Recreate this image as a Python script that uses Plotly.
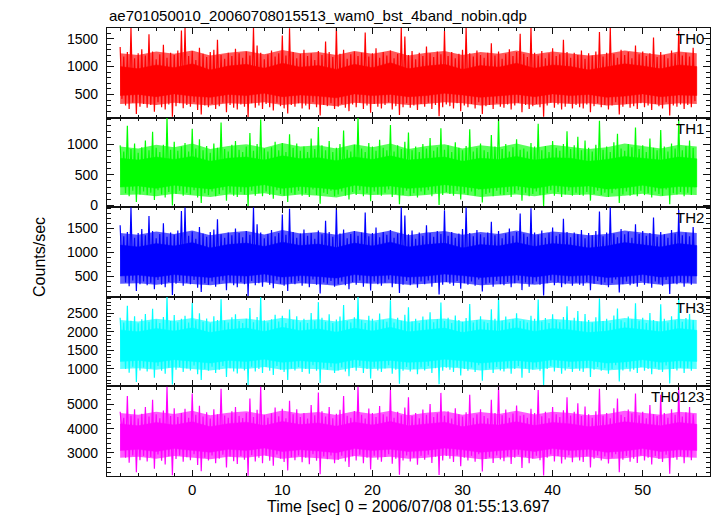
import numpy as np
import plotly.graph_objects as go
from plotly.subplots import make_subplots

# ---------------- data ----------------
# spikes: max / min of each 0.4 s bin ; core: dense band, halo: sparser band (every 2 s)
t_start = -8.0
bin_width = 0.4
core_step = 2.0

title_text = "ae701050010_20060708015513_wam0_bst_4band_nobin.qdp"
x_title = "Time [sec] 0 = 2006/07/08 01:55:13.697"
y_title = "Counts/sec"
band_names = ["TH0", "TH1", "TH2", "TH3", "TH0123"]
band_rgb = [(255, 0, 0), (0, 255, 0), (0, 0, 255), (0, 255, 255), (255, 0, 255)]

th0_high = [1350, 1180, 1260, 1700, 1150, 1240, 1310, 1200, 1580, 1270, 1130, 1220, 1390, 1160, 1250, 1210,
            1290, 1650, 1700, 1190, 1280, 1120, 1340, 1230, 1170, 1260, 1300, 1480, 1210, 1140, 1250, 1190,
            1320, 1240, 1160, 1270, 1200, 1700, 1380, 1250, 1130, 1220, 1290, 1180, 1240, 1560, 1200, 1690,
            1260, 1150, 1230, 1300, 1190, 1240, 1120, 1280, 1210, 1450, 1260, 1170, 1700, 1230, 1300, 1140,
            1220, 1270, 1190, 1250, 1610, 1180, 1240, 1330, 1160, 1260, 1200, 1290, 1150, 1230, 1700, 1540,
            1210, 1280, 1130, 1250, 1190, 1360, 1240, 1170, 1270, 1220, 1640, 1190, 1260, 1150, 1230, 1300,
            1700, 1240, 1180, 1290, 1210, 1160, 1250, 1420, 1200, 1270, 1140, 1230, 1310, 1190, 1260, 1590,
            1230, 1170, 1700, 1250, 1200, 1280, 1150, 1240, 1330, 1190, 1220, 1480, 1260, 1160, 1250, 1210,
            1290, 1140, 1240, 1200, 1270, 1620, 1180, 1250, 1700, 1230, 1160, 1300, 1210, 1260, 1150, 1380,
            1220, 1270, 1190, 1240, 1520, 1170, 1260, 1210, 1150, 1290, 1230, 1680, 1200, 1250, 1180, 1340]
th0_low = [420, 300, 240, 350, 150, 280, 330, 260, 310, 190, 360, 270, 230, 320, 100, 290,
           340, 250, 310, 280, 360, 220, 140, 300, 270, 330, 240, 290, 350, 180, 310, 260,
           230, 320, 280, 90, 340, 260, 300, 240, 330, 270, 210, 350, 290, 250, 160, 310,
           280, 340, 250, 300, 230, 360, 270, 120, 310, 290, 340, 240, 280, 330, 260, 200,
           320, 270, 350, 240, 300, 170, 330, 280, 250, 310, 360, 230, 290, 130, 270, 340,
           260, 300, 220, 330, 280, 350, 240, 310, 110, 270, 320, 290, 250, 340, 200, 300,
           270, 330, 250, 360, 150, 290, 310, 240, 340, 280, 260, 320, 230, 300, 350, 180,
           310, 240, 290, 330, 270, 100, 300, 350, 260, 320, 230, 280, 340, 250, 310, 270,
           250, 320, 180, 290, 340, 270, 310, 230, 300, 360, 140, 280, 330, 260, 290, 240,
           340, 270, 300, 220, 330, 290, 250, 360, 120, 300, 280, 320, 240, 310, 270, 380]
th0_core_top = [1000, 960, 1030, 980, 1050, 940, 1010, 1040, 970, 1060, 990, 1020, 950, 1040, 980, 1070,
                960, 1010, 1040, 950, 1020, 990, 1060, 970, 1030, 1000, 940, 990, 1050, 1010, 960, 1030, 1000]
th0_core_bottom = [480, 500, 460, 510, 470, 450, 500, 480, 520, 460, 490, 470, 440, 510, 480, 500,
                   460, 480, 520, 490, 450, 470, 500, 460, 510, 480, 500, 450, 470, 510, 460, 490, 480]
th0_halo_top = [1240, 1210, 1270, 1230, 1290, 1200, 1250, 1280, 1220, 1300, 1240, 1260, 1210, 1280, 1230, 1290,
                1200, 1250, 1280, 1210, 1260, 1230, 1290, 1220, 1270, 1240, 1200, 1230, 1290, 1250, 1210, 1270, 1240]
th0_halo_bottom = [330, 340, 310, 350, 320, 300, 340, 330, 360, 310, 340, 320, 290, 350, 330, 340,
                   310, 330, 360, 340, 300, 320, 340, 310, 350, 330, 340, 300, 320, 350, 310, 340, 330]

th1_high = [980, 880, 1300, 920, 1010, 860, 950, 1060, 900, 1200, 940, 870, 990, 1430, 910, 1040,
            890, 960, 1020, 880, 1250, 930, 1080, 900, 970, 860, 1010, 940, 1350, 920, 880, 990,
            1050, 910, 870, 960, 1180, 890, 1000, 1400, 930, 880, 950, 1040, 900, 1020, 870, 1160,
            940, 1010, 890, 960, 870, 1090, 920, 1280, 980, 900, 1050, 870, 940, 1000, 1220, 910,
            880, 990, 1430, 930, 870, 1020, 960, 890, 1070, 940, 900, 1310, 880, 980, 920, 1040,
            1190, 900, 960, 870, 1000, 930, 1100, 890, 950, 1260, 910, 980, 870, 1030, 940, 900,
            970, 1240, 880, 940, 1010, 900, 870, 1150, 960, 1420, 920, 1000, 880, 950, 1080, 910,
            930, 880, 1020, 960, 1330, 900, 970, 870, 1050, 940, 890, 1000, 1210, 920, 980, 1120,
            900, 1060, 940, 880, 990, 1380, 910, 960, 870, 1030, 1170, 930, 890, 1000, 950, 1270,
            920, 980, 870, 1090, 940, 900, 1230, 960, 880, 1010, 930, 1400, 900, 970, 1060, 940]
th1_low = [450, 200, 150, 240, 60, 180, 230, 170, 210, 90, 250, 180, 130, 220, 0, 190,
           240, 160, 210, 180, 250, 130, 40, 200, 170, 230, 150, 190, 250, 80, 210, 160,
           140, 220, 180, -20, 240, 160, 200, 150, 230, 170, 110, 250, 190, 160, 60, 210,
           180, 240, 160, 200, 140, 260, 170, 30, 210, 190, 240, 150, 180, 230, 160, 100,
           220, 170, 250, 150, 200, 70, 230, 180, 160, 210, 260, 140, 190, 20, 170, 240,
           160, 200, 130, 230, 180, 250, 150, 210, 10, 170, 220, 190, 160, 240, 100, 200,
           170, 230, 160, 260, 50, 190, 210, 150, 240, 180, 170, 220, 140, 200, 250, 80,
           210, 150, 190, 230, 170, -10, 200, 250, 160, 220, 140, 180, 240, 160, 210, 170,
           160, 220, 80, 190, 240, 170, 210, 140, 200, 260, 40, 180, 230, 160, 190, 150,
           240, 170, 200, 130, 230, 190, 160, 260, 20, 200, 180, 220, 150, 210, 170, 300]
th1_core_top = [770, 740, 790, 750, 800, 720, 770, 790, 740, 810, 760, 780, 730, 790, 750, 810,
                740, 770, 790, 720, 770, 750, 800, 740, 780, 770, 720, 750, 800, 770, 740, 790, 760]
th1_core_bottom = [300, 320, 280, 330, 300, 270, 320, 300, 340, 280, 310, 290, 260, 330, 300, 320,
                   280, 300, 340, 310, 270, 290, 320, 280, 330, 300, 320, 270, 290, 330, 280, 310, 300]
th1_halo_top = [960, 930, 990, 950, 1010, 920, 970, 1000, 940, 1020, 960, 980, 930, 1000, 950, 1010,
                920, 970, 1000, 930, 980, 950, 1010, 940, 990, 960, 920, 950, 1010, 970, 930, 990, 960]
th1_halo_bottom = [170, 180, 150, 190, 160, 140, 180, 170, 200, 150, 180, 160, 130, 190, 170, 180,
                   150, 170, 200, 180, 140, 160, 180, 150, 190, 170, 180, 140, 160, 190, 150, 180, 170]

th2_high = [1560, 1330, 1420, 1930, 1300, 1400, 1480, 1350, 1750, 1440, 1290, 1380, 1600, 1320, 1410, 1360,
            1450, 1850, 1930, 1340, 1430, 1280, 1520, 1390, 1320, 1420, 1470, 1680, 1370, 1300, 1410, 1350,
            1490, 1400, 1310, 1440, 1360, 1930, 1580, 1410, 1290, 1380, 1460, 1330, 1400, 1780, 1360, 1900,
            1420, 1300, 1390, 1470, 1340, 1400, 1280, 1450, 1370, 1650, 1420, 1320, 1930, 1390, 1470, 1290,
            1380, 1440, 1340, 1410, 1820, 1330, 1400, 1510, 1310, 1420, 1360, 1460, 1300, 1390, 1930, 1760,
            1370, 1450, 1280, 1410, 1340, 1560, 1400, 1320, 1440, 1380, 1870, 1340, 1420, 1300, 1390, 1480,
            1930, 1400, 1330, 1460, 1370, 1310, 1410, 1630, 1350, 1440, 1290, 1390, 1490, 1340, 1420, 1800,
            1390, 1320, 1910, 1410, 1360, 1450, 1300, 1400, 1510, 1340, 1380, 1690, 1420, 1310, 1410, 1370,
            1460, 1290, 1400, 1350, 1440, 1840, 1330, 1410, 1930, 1390, 1310, 1480, 1370, 1420, 1300, 1580,
            1380, 1440, 1340, 1400, 1720, 1320, 1420, 1370, 1300, 1460, 1390, 1880, 1350, 1410, 1330, 1520]
th2_low = [620, 380, 300, 420, 200, 340, 400, 320, 370, 240, 430, 330, 280, 390, 120, 350,
           410, 310, 370, 340, 430, 270, 180, 360, 330, 400, 290, 350, 420, 220, 380, 320,
           280, 390, 340, 100, 410, 320, 360, 290, 400, 330, 260, 420, 350, 310, 200, 370,
           340, 410, 310, 360, 280, 440, 330, 150, 380, 350, 410, 290, 340, 400, 320, 240,
           390, 330, 420, 290, 360, 210, 400, 340, 310, 370, 440, 280, 350, 160, 330, 410,
           320, 360, 270, 400, 340, 420, 290, 380, 130, 330, 390, 350, 310, 410, 250, 360,
           330, 400, 310, 440, 190, 350, 370, 290, 410, 340, 320, 390, 280, 360, 420, 220,
           380, 290, 350, 400, 330, 110, 360, 420, 320, 390, 280, 340, 410, 310, 380, 330,
           310, 390, 220, 350, 410, 330, 380, 280, 360, 440, 170, 340, 400, 320, 350, 290,
           410, 330, 360, 270, 400, 350, 310, 430, 140, 360, 340, 390, 290, 380, 330, 580]
th2_core_top = [1150, 1110, 1180, 1130, 1200, 1090, 1160, 1190, 1120, 1210, 1140, 1170, 1100, 1190, 1130, 1210,
                1110, 1160, 1190, 1090, 1160, 1130, 1200, 1120, 1180, 1150, 1090, 1130, 1200, 1160, 1110, 1180, 1140]
th2_core_bottom = [510, 530, 490, 540, 510, 480, 530, 510, 550, 490, 520, 500, 470, 540, 510, 530,
                   490, 510, 550, 520, 480, 500, 530, 490, 540, 510, 530, 480, 500, 540, 490, 520, 510]
th2_halo_top = [1400, 1360, 1430, 1380, 1450, 1350, 1410, 1440, 1370, 1460, 1390, 1420, 1360, 1440, 1380, 1450,
                1350, 1410, 1440, 1360, 1420, 1380, 1450, 1370, 1430, 1400, 1350, 1380, 1450, 1410, 1360, 1430, 1400]
th2_halo_bottom = [350, 360, 330, 370, 340, 320, 360, 350, 380, 330, 360, 340, 310, 370, 350, 360,
                   330, 350, 380, 360, 320, 340, 360, 330, 370, 350, 360, 320, 340, 370, 330, 360, 350]

th3_high = [2380, 2250, 2700, 2300, 2420, 2230, 2340, 2480, 2270, 2620, 2330, 2240, 2400, 2940, 2290, 2450,
            2260, 2350, 2430, 2250, 2780, 2310, 2500, 2270, 2360, 2230, 2420, 2320, 2880, 2300, 2250, 2390,
            2470, 2290, 2240, 2350, 2640, 2260, 2400, 2930, 2310, 2250, 2340, 2460, 2280, 2430, 2240, 2600,
            2320, 2420, 2260, 2350, 2240, 2510, 2300, 2800, 2380, 2270, 2470, 2240, 2330, 2410, 2720, 2290,
            2250, 2390, 2940, 2310, 2240, 2430, 2350, 2260, 2490, 2320, 2270, 2850, 2250, 2380, 2300, 2460,
            2660, 2280, 2350, 2240, 2410, 2310, 2530, 2260, 2340, 2790, 2290, 2380, 2240, 2440, 2320, 2270,
            2370, 2750, 2250, 2320, 2420, 2280, 2240, 2610, 2350, 2940, 2300, 2410, 2250, 2340, 2500, 2290,
            2310, 2250, 2430, 2350, 2870, 2280, 2370, 2240, 2470, 2320, 2260, 2400, 2690, 2300, 2380, 2560,
            2280, 2480, 2320, 2250, 2390, 2900, 2290, 2350, 2240, 2440, 2630, 2310, 2260, 2410, 2340, 2770,
            2300, 2380, 2240, 2510, 2320, 2280, 2740, 2350, 2250, 2420, 2310, 2920, 2270, 2370, 2480, 2320]
th3_low = [1450, 1000, 900, 1060, 650, 960, 1040, 930, 1010, 760, 1080, 950, 870, 1030, 580, 980,
           1050, 920, 1010, 960, 1090, 860, 700, 1000, 950, 1060, 890, 980, 1080, 780, 1020, 930,
           880, 1030, 960, 560, 1060, 930, 1000, 890, 1050, 950, 840, 1080, 980, 920, 700, 1010,
           960, 1050, 920, 1000, 870, 1100, 950, 620, 1020, 980, 1050, 890, 960, 1040, 930, 800,
           1030, 950, 1080, 890, 1000, 740, 1040, 960, 920, 1010, 1100, 870, 980, 600, 950, 1050,
           930, 1000, 860, 1040, 960, 1080, 890, 1020, 590, 950, 1030, 980, 920, 1050, 820, 1000,
           950, 1040, 920, 1100, 680, 980, 1010, 890, 1050, 960, 930, 1030, 870, 1000, 1080, 760,
           1020, 890, 980, 1040, 950, 570, 1000, 1080, 930, 1030, 870, 960, 1050, 920, 1020, 950,
           920, 1030, 780, 980, 1050, 950, 1020, 870, 1000, 1100, 660, 960, 1040, 930, 980, 890,
           1050, 950, 1000, 860, 1040, 980, 920, 1090, 610, 1000, 960, 1030, 890, 1020, 950, 1350]
th3_core_top = [2050, 2000, 2090, 2020, 2110, 1980, 2060, 2100, 2010, 2120, 2030, 2080, 1990, 2100, 2020, 2120,
                2000, 2060, 2100, 1980, 2060, 2020, 2110, 2010, 2090, 2050, 1980, 2020, 2110, 2060, 2000, 2090, 2040]
th3_core_bottom = [1200, 1230, 1180, 1250, 1200, 1160, 1230, 1200, 1260, 1180, 1220, 1190, 1150, 1250, 1200, 1230,
                   1180, 1200, 1260, 1220, 1160, 1190, 1230, 1180, 1250, 1200, 1230, 1160, 1190, 1250, 1180, 1220, 1200]
th3_halo_top = [2320, 2280, 2350, 2300, 2370, 2270, 2330, 2360, 2290, 2380, 2310, 2340, 2280, 2360, 2300, 2370,
                2270, 2330, 2360, 2280, 2340, 2300, 2370, 2290, 2350, 2320, 2270, 2300, 2370, 2330, 2280, 2350, 2320]
th3_halo_bottom = [1000, 1020, 980, 1040, 1000, 960, 1020, 1000, 1050, 980, 1010, 990, 950, 1040, 1000, 1020,
                   980, 1000, 1050, 1010, 960, 990, 1020, 980, 1040, 1000, 1020, 960, 990, 1040, 980, 1010, 1000]

th0123_high = [4700, 4450, 5350, 4550, 4800, 4420, 4620, 4900, 4500, 5200, 4600, 4430, 4750, 5740, 4520, 4850,
               4480, 4650, 4820, 4450, 5450, 4580, 4950, 4500, 4680, 4420, 4800, 4600, 5650, 4550, 4450, 4720,
               4900, 4530, 4440, 4660, 5250, 4480, 4780, 5740, 4580, 4450, 4640, 4880, 4510, 4820, 4430, 5150,
               4600, 4800, 4480, 4650, 4420, 4980, 4560, 5500, 4720, 4500, 4900, 4430, 4620, 4780, 5350, 4540,
               4450, 4730, 5740, 4580, 4420, 4830, 4650, 4480, 4940, 4600, 4500, 5600, 4450, 4700, 4560, 4880,
               5300, 4520, 4650, 4430, 4790, 4580, 5020, 4480, 4640, 5480, 4540, 4720, 4420, 4850, 4600, 4500,
               4680, 5400, 4450, 4600, 4800, 4520, 4430, 5200, 4650, 5740, 4560, 4790, 4450, 4630, 4960, 4540,
               4580, 4450, 4820, 4650, 5600, 4510, 4700, 4430, 4900, 4600, 4480, 4760, 5300, 4550, 4700, 5050,
               4520, 4920, 4600, 4450, 4720, 5650, 4540, 4650, 4430, 4850, 5250, 4580, 4480, 4790, 4640, 5450,
               4560, 4700, 4430, 4980, 4600, 4520, 5400, 4650, 4450, 4800, 4580, 5700, 4500, 4680, 4900, 4600]
th0123_low = [3900, 2800, 2600, 2900, 2200, 2700, 2880, 2650, 2830, 2350, 2940, 2680, 2520, 2860, 2080, 2750,
              2900, 2640, 2820, 2700, 2950, 2500, 2250, 2800, 2690, 2900, 2580, 2760, 2930, 2400, 2850, 2660,
              2540, 2870, 2720, 2060, 2910, 2650, 2800, 2580, 2890, 2680, 2470, 2940, 2760, 2630, 2280, 2820,
              2700, 2900, 2620, 2800, 2530, 2950, 2680, 2120, 2850, 2740, 2900, 2580, 2710, 2880, 2650, 2420,
              2860, 2690, 2930, 2580, 2800, 2320, 2890, 2720, 2640, 2830, 2950, 2550, 2760, 2100, 2690, 2900,
              2650, 2800, 2510, 2880, 2720, 2930, 2590, 2840, 2090, 2690, 2870, 2760, 2630, 2900, 2450, 2800,
              2690, 2880, 2640, 2950, 2230, 2750, 2820, 2590, 2900, 2730, 2660, 2860, 2540, 2800, 2930, 2380,
              2840, 2580, 2760, 2890, 2700, 2070, 2800, 2940, 2650, 2870, 2560, 2730, 2910, 2620, 2850, 2690,
              2630, 2860, 2400, 2760, 2900, 2690, 2850, 2560, 2800, 2950, 2200, 2720, 2880, 2640, 2760, 2590,
              2900, 2690, 2800, 2520, 2880, 2750, 2630, 2930, 2140, 2800, 2720, 2870, 2580, 2840, 2700, 3500]
th0123_core_top = [4200, 4120, 4260, 4150, 4290, 4080, 4210, 4270, 4130, 4300, 4170, 4240, 4100, 4270, 4150, 4300,
                   4120, 4210, 4270, 4080, 4210, 4150, 4290, 4130, 4260, 4200, 4080, 4150, 4290, 4210, 4120, 4260, 4180]
th0123_core_bottom = [3100, 3150, 3060, 3180, 3100, 3030, 3150, 3100, 3200, 3060, 3130, 3080, 3010, 3180, 3100, 3150,
                      3060, 3100, 3200, 3130, 3030, 3080, 3150, 3060, 3180, 3100, 3150, 3030, 3080, 3180, 3060, 3130, 3100]
th0123_halo_top = [4650, 4580, 4700, 4610, 4740, 4560, 4660, 4720, 4590, 4750, 4630, 4690, 4570, 4720, 4610, 4740,
                   4560, 4660, 4720, 4580, 4690, 4610, 4740, 4590, 4700, 4650, 4560, 4610, 4740, 4660, 4580, 4700, 4640]
th0123_halo_bottom = [2800, 2840, 2760, 2870, 2800, 2740, 2840, 2800, 2890, 2760, 2830, 2780, 2720, 2870, 2800, 2840,
                      2760, 2800, 2890, 2830, 2740, 2780, 2840, 2760, 2870, 2800, 2840, 2740, 2780, 2870, 2760, 2830, 2800]

y_ranges = [[84, 1693], [-27, 1432], [82, 1931], [529, 2944], [2048, 5748]]
y_dticks = [500, 500, 500, 500, 1000]
y_minor = [100, 100, 100, 100, 200]
x_range = [-9.46, 57.47]

highs = [th0_high, th1_high, th2_high, th3_high, th0123_high]
lows = [th0_low, th1_low, th2_low, th3_low, th0123_low]
core_tops = [th0_core_top, th1_core_top, th2_core_top, th3_core_top, th0123_core_top]
core_bottoms = [th0_core_bottom, th1_core_bottom, th2_core_bottom, th3_core_bottom, th0123_core_bottom]
halo_tops = [th0_halo_top, th1_halo_top, th2_halo_top, th3_halo_top, th0123_halo_top]
halo_bottoms = [th0_halo_bottom, th1_halo_bottom, th2_halo_bottom, th3_halo_bottom, th0123_halo_bottom]

# ---------------- figure ----------------
FONT = "Liberation Sans, Arial, Helvetica, sans-serif"
AX = "#111111"
fig = make_subplots(rows=5, cols=1, shared_xaxes=True, vertical_spacing=0)


def band(top, bottom, color, row, width=0.5):
    top = np.asarray(top, dtype=float)
    bottom = np.asarray(bottom, dtype=float)
    tc = t_start + core_step * np.arange(len(top))
    fig.add_trace(go.Scatter(x=np.concatenate([tc, tc[::-1]]),
                             y=np.concatenate([top, bottom[::-1]]),
                             mode="lines", fill="toself", fillcolor=color,
                             line=dict(color=color, width=width),
                             hoverinfo="skip", showlegend=False), row=row, col=1)


for i in range(5):
    r, g, b = band_rgb[i]
    solid = "rgb(%d,%d,%d)" % (r, g, b)
    light = "rgba(%d,%d,%d,0.65)" % (r, g, b)
    band(halo_tops[i], halo_bottoms[i], light, i + 1, width=0)
    band(core_tops[i], core_bottoms[i], solid, i + 1)
    # spikes: bin maxima and minima
    hi = np.asarray(highs[i], dtype=float)
    lo = np.asarray(lows[i], dtype=float)
    n = len(hi)
    t_hi = t_start + bin_width * np.arange(n)
    t_lo = t_hi + bin_width / 2
    tt = np.empty(2 * n)
    yy = np.empty(2 * n)
    tt[0::2], tt[1::2] = t_hi, t_lo
    yy[0::2], yy[1::2] = hi, lo
    fig.add_trace(go.Scatter(x=tt, y=yy, mode="lines",
                             line=dict(color=solid, width=1.2, simplify=False),
                             hoverinfo="skip", showlegend=False), row=i + 1, col=1)

    fig.update_yaxes(range=y_ranges[i], dtick=y_dticks[i], tick0=0,
                     ticks="inside", ticklen=7, tickwidth=1.2, tickcolor=AX,
                     minor=dict(dtick=y_minor[i], ticks="inside", ticklen=4, tickwidth=1, tickcolor=AX),
                     mirror="allticks", showline=True, linecolor=AX, linewidth=1.2,
                     showgrid=False, zeroline=False, ticklabelstandoff=5,
                     tickfont=dict(family=FONT, size=14, color="black"),
                     row=i + 1, col=1)
    fig.update_xaxes(range=x_range, dtick=10, tick0=0,
                     ticks="inside", ticklen=6, tickwidth=1.2, tickcolor=AX,
                     minor=dict(dtick=2, ticks="inside", ticklen=3, tickwidth=1, tickcolor=AX),
                     mirror="allticks", showline=True, linecolor=AX, linewidth=1.2,
                     showgrid=False, zeroline=False,
                     tickfont=dict(family=FONT, size=15, color="black"),
                     row=i + 1, col=1)
    fig.add_annotation(text=band_names[i], xref="paper", x=0.993, xanchor="right",
                       yref=("y%d domain" % (i + 1)) if i else "y domain", y=1.0, yanchor="top",
                       showarrow=False, font=dict(family=FONT, size=15, color="black"))

fig.add_annotation(text=title_text, xref="paper", x=0.0, xanchor="left",
                   yref="paper", y=1.027, yanchor="middle", showarrow=False,
                   font=dict(family=FONT, size=15, color="black"))
fig.add_annotation(text=x_title, xref="paper", x=0.5, xanchor="center",
                   yref="paper", y=-0.067, yanchor="middle", showarrow=False,
                   font=dict(family=FONT, size=16, color="black"))
fig.add_annotation(text=y_title, xref="paper", x=-0.112, xanchor="center",
                   yref="paper", y=0.49, yanchor="middle", showarrow=False, textangle=-90,
                   font=dict(family=FONT, size=16, color="black"))

fig.update_layout(width=717, height=516, autosize=False,
                  margin=dict(l=107, r=7, t=28, b=40, pad=0),
                  paper_bgcolor="white", plot_bgcolor="white", showlegend=False)

fig.write_html("out.html", config={"displayModeBar": False},
               post_script="document.body.style.margin='0px'; document.body.style.overflow='hidden';")
